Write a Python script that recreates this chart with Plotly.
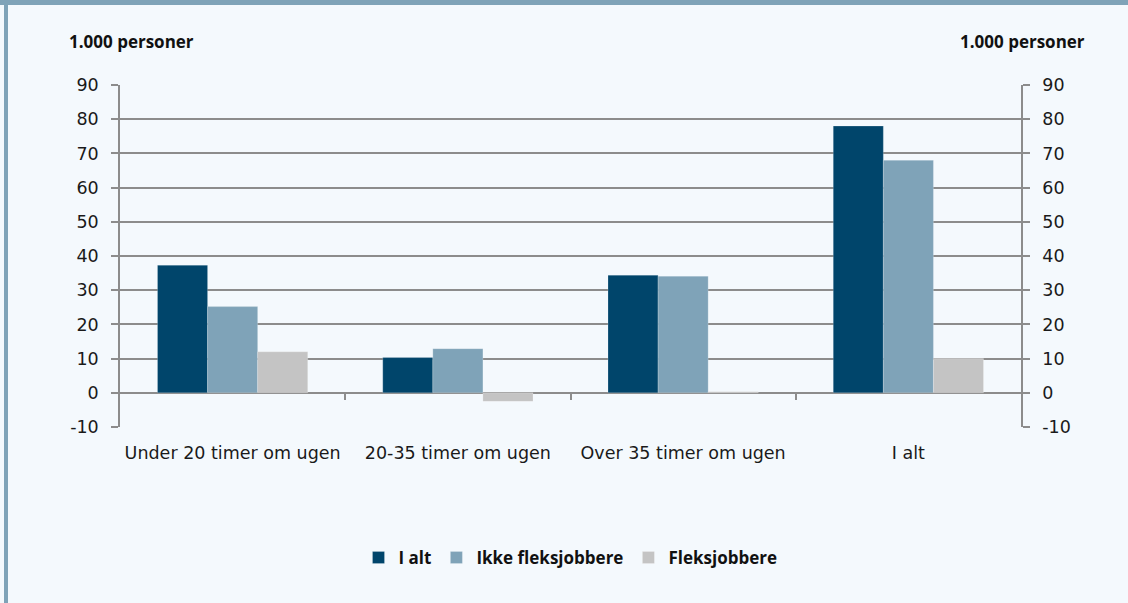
import plotly.graph_objects as go

categories = ["Under 20 timer om ugen", "20-35 timer om ugen", "Over 35 timer om ugen", "I alt"]
i_alt = [37.3, 10.3, 34.4, 78.0]
ikke_fleks = [25.2, 12.9, 34.1, 68.0]
fleks = [12.0, -2.5, 0.3, 10.0]
series_names = ["I alt", "Ikke fleksjobbere", "Fleksjobbere"]
colors = ["#00456b", "#7fa3b8", "#c4c4c4"]
y_ticks = list(range(-10, 91, 10))
y_ticktext = [str(v) for v in y_ticks]

W, H = 1128, 603
L, R, T, B = 120, 107, 85, 176
pw, ph = W - L - R, H - T - B

def px_x(x):
    return (x - L) / pw

def px_y(y):
    return (H - B - y) / ph

FONT = "DejaVu Sans"
BFONT = "Open Sans"
GRID = "#8c8c8c"
BG = "#f4f9fd"

fig = go.Figure()
xs = list(range(len(categories)))
for name, vals, col in zip(series_names, [i_alt, ikke_fleks, fleks], colors):
    fig.add_trace(go.Bar(x=xs, y=vals, name=name,
                         marker=dict(color=col, line=dict(color="rgba(255,255,255,0.35)", width=0.6))))

fig.add_trace(go.Scatter(x=[xs[0]], y=[0], yaxis="y2", mode="markers", marker=dict(opacity=0),
                         showlegend=False, hoverinfo="skip"))
fig.add_trace(go.Scatter(x=[xs[0]], y=[0], xaxis="x2", mode="markers", marker=dict(opacity=0),
                         showlegend=False, hoverinfo="skip"))

fig.update_layout(
    width=W, height=H,
    margin=dict(l=L, r=R, t=T, b=B),
    paper_bgcolor=BG, plot_bgcolor=BG,
    barmode="group", bargap=0.333, bargroupgap=0,
    font=dict(family=FONT, size=17.5, color="#1a1a1a"),
    xaxis=dict(range=[-0.5, 3.5], tickvals=xs, ticktext=categories, showgrid=False, zeroline=False,
               showline=False, ticks="", ticklabelstandoff=13, tickfont=dict(size=17.5)),
    xaxis2=dict(overlaying="x", range=[-0.5, 3.5], anchor="free", position=0.1, tickvals=[0.5, 1.5, 2.5],
                ticks="outside", ticklen=6, tickwidth=1.5, tickcolor=GRID, showticklabels=False,
                showgrid=False, zeroline=False, showline=False),
    yaxis=dict(range=[-10, 90], tickvals=y_ticks, ticktext=y_ticktext, showgrid=True, gridcolor=GRID,
               gridwidth=1.5, zeroline=True, zerolinecolor=GRID, zerolinewidth=1.5,
               showline=True, linecolor=GRID, linewidth=1.5, ticks="outside", ticklen=7, tickwidth=1.5,
               tickcolor=GRID, ticklabelstandoff=9, tickfont=dict(size=17.5)),
    yaxis2=dict(range=[-10, 90], tickvals=y_ticks, ticktext=y_ticktext, overlaying="y", side="right",
                showgrid=False, zeroline=False, showline=True, linecolor=GRID, linewidth=1.5,
                ticks="outside", ticklen=7, tickwidth=1.5, tickcolor=GRID, ticklabelstandoff=9,
                tickfont=dict(size=17.5)),
    legend=dict(orientation="h", x=0.5, xanchor="center", y=px_y(558), yanchor="middle",
                font=dict(size=17, family=BFONT, weight="bold", color="#111"), itemwidth=30,
                bgcolor="rgba(0,0,0,0)", traceorder="normal"),
    showlegend=True,
)

for xp in (131, 1022):
    fig.add_annotation(text="<b>1.000 personer</b>", xref="paper", yref="paper", x=px_x(xp), y=px_y(42),
                       xanchor="center", yanchor="middle", showarrow=False,
                       font=dict(size=17, family=BFONT, color="#111"))

# frame decorations: top banner and left border
fig.add_shape(type="rect", xref="paper", yref="paper", x0=px_x(0), x1=px_x(W), y0=px_y(5), y1=px_y(0),
              fillcolor="#7fa3b8", line=dict(width=0), layer="above")
fig.add_shape(type="rect", xref="paper", yref="paper", x0=px_x(4), x1=px_x(8), y0=px_y(H), y1=px_y(0),
              fillcolor="#7fa3b8", line=dict(width=0), layer="above")

fig.write_html("out.html", config={"displayModeBar": False},
               post_script="document.body.style.margin='0';document.body.style.overflow='hidden';")
